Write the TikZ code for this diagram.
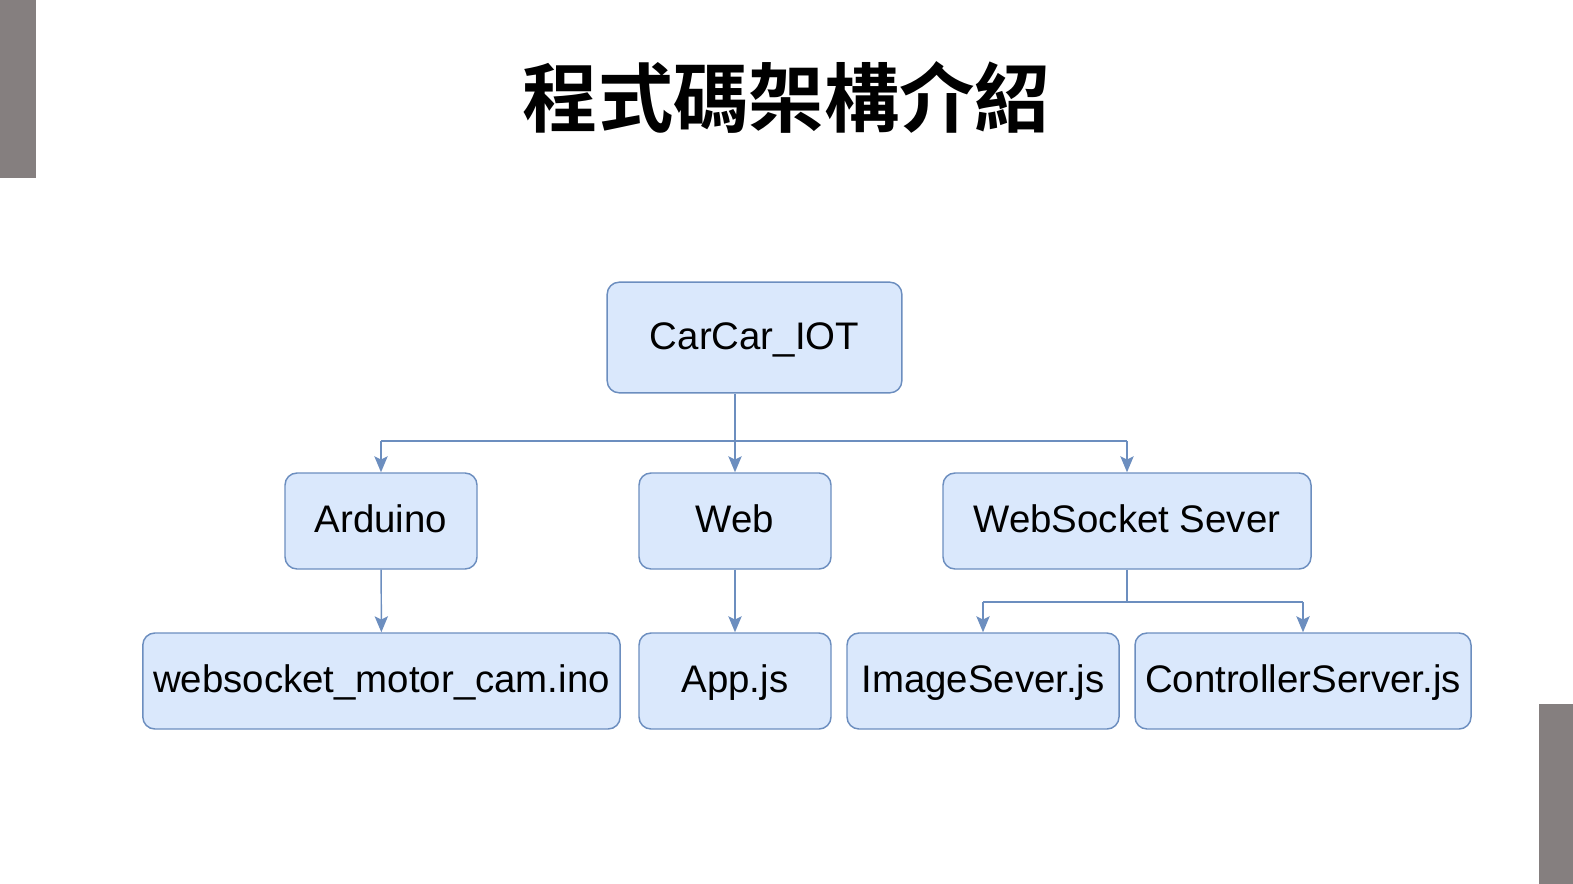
\documentclass[tikz,border=0pt]{standalone}
\usepackage{fontspec}
\setmainfont{Liberation Sans}
\newfontfamily\cjkbold[BoldFont=*]{Noto Sans CJK TC Bold}
\usetikzlibrary{arrows.meta}

\definecolor{boxfill}{HTML}{DAE8FC}
\definecolor{boxline}{HTML}{6C8EBF}
\definecolor{bargray}{HTML}{857F7F}

\begin{document}
\begin{tikzpicture}[x=0.75pt, y=-0.75pt,
    box/.style={draw=boxline, fill=boxfill, line width=1.1pt, rounded corners=9pt,
        minimum height=72pt, font=\fontsize{28.8}{32}\selectfont, inner sep=0pt,
        text height=20.6pt, text depth=2.8pt},
    link/.style={draw=boxline, line width=1.1pt},
    arr/.style={link, -{Stealth[length=12pt, width=10pt, inset=2.5pt]}}]
    \useasboundingbox (0,0) rectangle (1573,884);
    % side bars
    \fill[bargray] (0,0) rectangle (36,178);
    \fill[bargray] (1539,704) rectangle (1573,884);
    % title
    \node (title) at (786.5,97) {\cjkbold\fontsize{56.5}{60}\selectfont 程式碼架構介紹};
    % boxes
    \node[box, minimum width=221pt, minimum height=83pt] (root) at (754.5,337.5) {CarCar\_IOT};
    \node[box, minimum width=144pt] (ard) at (381,521) {Arduino};
    \node[box, minimum width=144pt] (web) at (735,521) {Web};
    \node[box, minimum width=276pt] (wss) at (1127,521) {WebSocket Sever};
    \node[box, minimum width=358pt] (ino) at (381.5,681) {websocket\_motor\_cam.ino};
    \node[box, minimum width=144pt] (app) at (735,681) {App.js};
    \node[box, minimum width=204pt] (img) at (983,681) {ImageSever.js};
    \node[box, minimum width=252pt] (ctrl) at (1303,681) {ControllerServer.js};
    % connectors
    \coordinate (bus) at (735,441);
    \coordinate (bus2) at (1127,602);
    \draw[link] (root.south -| web) -- (bus);
    \draw[link] (bus -| ard) -- (bus -| wss);
    \draw[arr] (bus -| ard) -- (ard.north);
    \draw[arr] (bus) -- (web.north);
    \draw[arr] (bus -| wss) -- (wss.north);
    \draw[arr] (ard) -- (ino);
    \draw[arr] (web) -- (app);
    \draw[link] (wss.south) -- (bus2);
    \draw[link] (bus2 -| img) -- (bus2 -| ctrl);
    \draw[arr] (bus2 -| img) -- (img.north);
    \draw[arr] (bus2 -| ctrl) -- (ctrl.north);
\end{tikzpicture}
\end{document}
